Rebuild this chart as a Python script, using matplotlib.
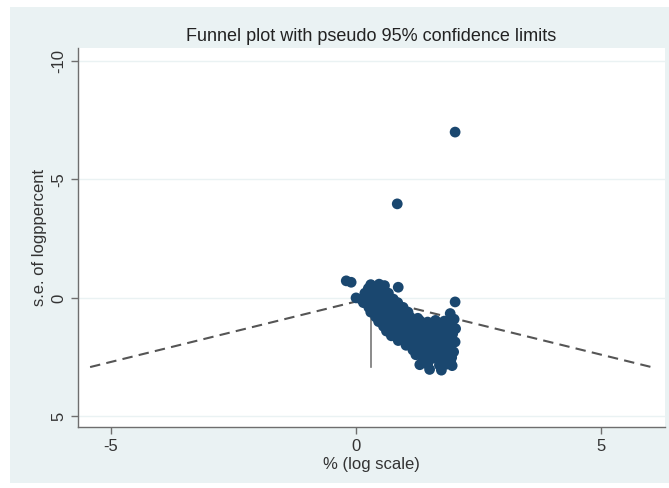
import matplotlib
matplotlib.use("Agg")
import matplotlib.pyplot as plt
from matplotlib.patches import Rectangle

plt.rcParams['font.family'] = ['Liberation Sans', 'DejaVu Sans']
plt.rcParams['axes.unicode_minus'] = False

# effect estimates (x) and their standard errors (y)
effect = [
    2.02, 0.84,
    -0.2, -0.1,
    0.3, 0.47, 0.58,
    0.25, 0.4, 0.52, 0.86,
    0.18, 0.36, 0.5, 0.66,
    0.0, 0.1, 0.22, 0.31, 0.45, 0.6, 0.76,
    0.15, 0.3, 0.42, 0.55, 0.7, 0.85, 2.02,
    0.26, 0.4, 0.52, 0.66, 0.8, 0.96,
    0.3, 0.46, 0.6, 0.74, 0.9, 1.06, 1.92,
    0.4, 0.52, 0.66, 0.8, 0.95, 1.1, 1.26, 2.0,
    0.46, 0.6, 0.72, 0.86, 1.0, 1.16, 1.3, 1.46, 1.62, 1.8, 1.93,
    0.56, 0.7, 0.86, 1.0, 1.15, 1.3, 1.45, 1.6, 1.76, 1.88, 2.03,
    0.62, 0.76, 0.9, 1.1, 1.25, 1.4, 1.55, 1.7, 1.84, 1.97,
    0.72, 0.86, 1.0, 1.2, 1.35, 1.5, 1.66, 1.8, 1.9,
    0.86, 1.0, 1.15, 1.3, 1.45, 1.6, 1.76, 1.9, 2.02,
    1.02, 1.2, 1.35, 1.5, 1.66, 1.8, 1.92,
    1.16, 1.3, 1.45, 1.6, 1.76, 1.88, 1.99,
    1.22, 1.4, 1.55, 1.7, 1.84, 1.95,
    1.36, 1.5, 1.66, 1.8, 1.93,
    1.3, 1.46, 1.7, 1.84, 1.96,
    1.5, 1.74,
]
std_err = [
    -7.0, -3.97,
    -0.72, -0.66,
    -0.56, -0.58, -0.52,
    -0.4, -0.38, -0.42, -0.45,
    -0.2, -0.22, -0.18, -0.2,
    0.0, 0.05, 0.0, -0.05, 0.02, 0.0, 0.05,
    0.2, 0.22, 0.18, 0.2, 0.24, 0.2, 0.17,
    0.4, 0.42, 0.38, 0.4, 0.44, 0.4,
    0.6, 0.62, 0.58, 0.6, 0.64, 0.6, 0.66,
    0.8, 0.82, 0.78, 0.8, 0.84, 0.8, 0.86, 0.9,
    1.0, 1.02, 0.98, 1.0, 1.04, 1.0, 0.96, 1.02, 0.95, 0.98, 1.06,
    1.2, 1.22, 1.18, 1.2, 1.24, 1.2, 1.22, 1.18, 1.2, 1.26, 1.3,
    1.4, 1.42, 1.38, 1.4, 1.44, 1.4, 1.42, 1.38, 1.46, 1.52,
    1.6, 1.62, 1.58, 1.6, 1.64, 1.6, 1.62, 1.58, 1.7,
    1.8, 1.82, 1.78, 1.8, 1.84, 1.8, 1.82, 1.78, 1.86,
    2.0, 2.02, 1.98, 2.0, 2.04, 2.0, 2.06,
    2.2, 2.22, 2.18, 2.2, 2.24, 2.2, 2.28,
    2.4, 2.42, 2.38, 2.4, 2.44, 2.52,
    2.6, 2.62, 2.58, 2.6, 2.7,
    2.82, 2.8, 2.84, 2.8, 2.86,
    3.02, 3.05,
]

pooled = 0.3
max_se = 2.92

fig = plt.figure(figsize=(6.69, 4.88), dpi=100, facecolor='white')
fig.patches.append(Rectangle((10 / 669, 5 / 488), 659 / 669, 476 / 488,
                             transform=fig.transFigure, facecolor='#eaf2f3',
                             edgecolor='none', zorder=-1))
ax = fig.add_axes([78 / 669, 61 / 488, 587 / 669, 379 / 488])
ax.set_facecolor('white')

ax.scatter(effect, std_err, s=60, color='#1a476f', edgecolors='none', zorder=3)

# pseudo 95% limits and the pooled estimate
ax.plot([pooled - 1.96 * max_se, pooled, pooled + 1.96 * max_se],
        [max_se, 0, max_se], color='#555555', lw=1.5, ls=(0, (5, 3)), zorder=2)
ax.plot([pooled, pooled], [0, max_se], color='#777777', lw=1.2, zorder=2)

ax.set_xlim(-5.67, 6.3)
ax.set_ylim(5.45, -10.55)
ax.set_xticks([-5, 0, 5])
ax.set_yticks([-10, -5, 0, 5])
ax.set_yticklabels(['-10', '-5', '0', '5'], rotation=90, va='center')
for yv in [-10, -5, 0, 5]:
    ax.axhline(yv, color='#eaf2f3', lw=1.0, zorder=1)

for side in ['top', 'right']:
    ax.spines[side].set_visible(False)
for side in ['left', 'bottom']:
    ax.spines[side].set_color('#6e6e6e')
    ax.spines[side].set_linewidth(1.0)
ax.tick_params(colors='#6e6e6e', labelcolor='#333333', labelsize=12, length=5, width=1.0)

ax.set_title('Funnel plot with pseudo 95% confidence limits', fontsize=13,
             color='#222222', pad=5)
ax.set_xlabel('% (log scale)', fontsize=12, color='#333333', labelpad=2)
ax.set_ylabel('s.e. of logppercent', fontsize=12, color='#333333', labelpad=3)

fig.savefig('out.png', dpi=100, facecolor=fig.get_facecolor())
